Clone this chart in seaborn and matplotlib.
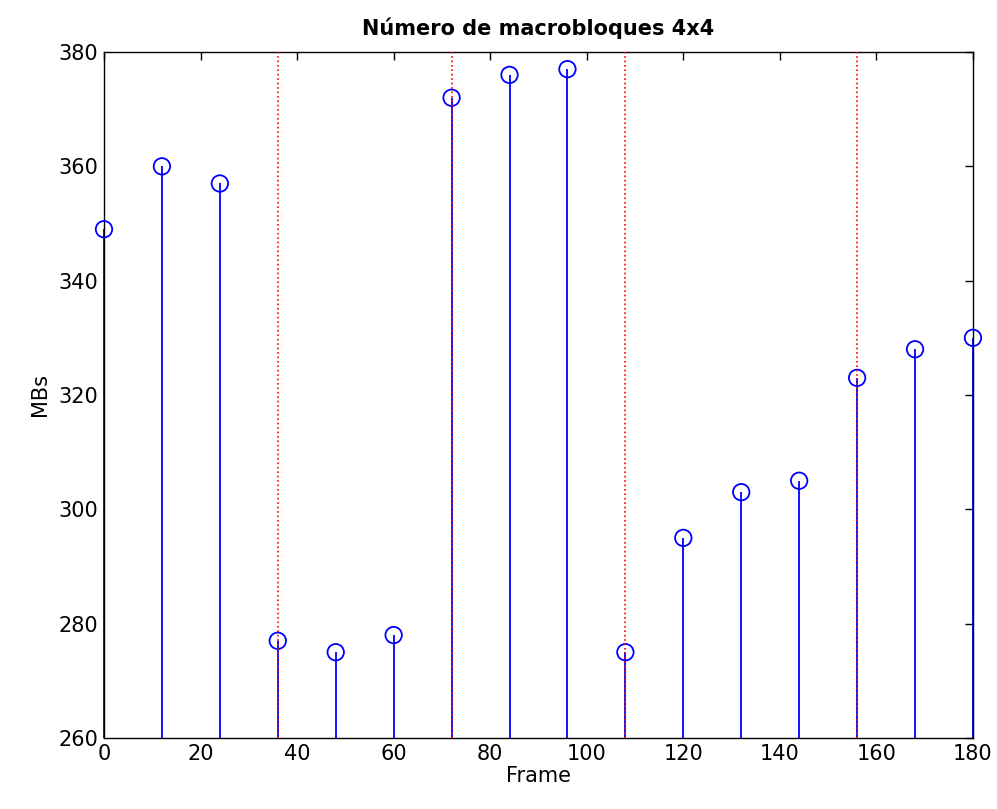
import pandas as pd
import matplotlib
matplotlib.use("Agg")
import matplotlib.pyplot as plt
import seaborn as sns

# frames and macroblock counts
frames = [0, 12, 24, 36, 48, 60, 72, 84, 96, 108, 120, 132, 144, 156, 168, 180]
mbs = [349, 360, 357, 277, 275, 278, 372, 376, 377, 275, 295, 303, 305, 323, 328, 330]
# frames marked with red dotted lines
marks = [36, 72, 108, 156]

d = pd.DataFrame({"Frame": frames, "MBs": mbs})

sns.set_style("white")
plt.rcParams["font.family"] = ["DejaVu Sans"]

fig = plt.figure(figsize=(9.97, 8.09), dpi=100)
ax = fig.add_axes([0.1043, 0.0878, 0.8716, 0.8479])

# stems from the bottom of the axis
ax.vlines(d.Frame, 260, d.MBs, color="blue", lw=1.3, zorder=2, clip_on=False)
sns.scatterplot(data=d, x="Frame", y="MBs", ax=ax, marker="o", s=140,
                facecolor="none", edgecolor="blue", linewidth=1.3, zorder=3,
                clip_on=False)

for m in marks:
    ax.axvline(m, color="red", ls=":", lw=1.2, zorder=4)

ax.set_xlim(0, 180)
ax.set_ylim(260, 380)
ax.set_xticks(range(0, 181, 20))
ax.set_yticks(range(260, 381, 20))
ax.tick_params(direction="in", length=6, width=1, labelsize=15, top=True, right=True,
               labeltop=False, labelright=False, pad=4, colors="black")
for s in ax.spines.values():
    s.set_color("black")
    s.set_linewidth(1)

ax.set_xlabel("Frame", fontsize=15, labelpad=2, color="black")
ax.set_ylabel("MBs", fontsize=15, labelpad=6, color="black")
ax.set_title("Número de macrobloques 4x4", fontsize=15, fontweight="bold", pad=12,
             color="black")

fig.savefig("out.png", dpi=100)
